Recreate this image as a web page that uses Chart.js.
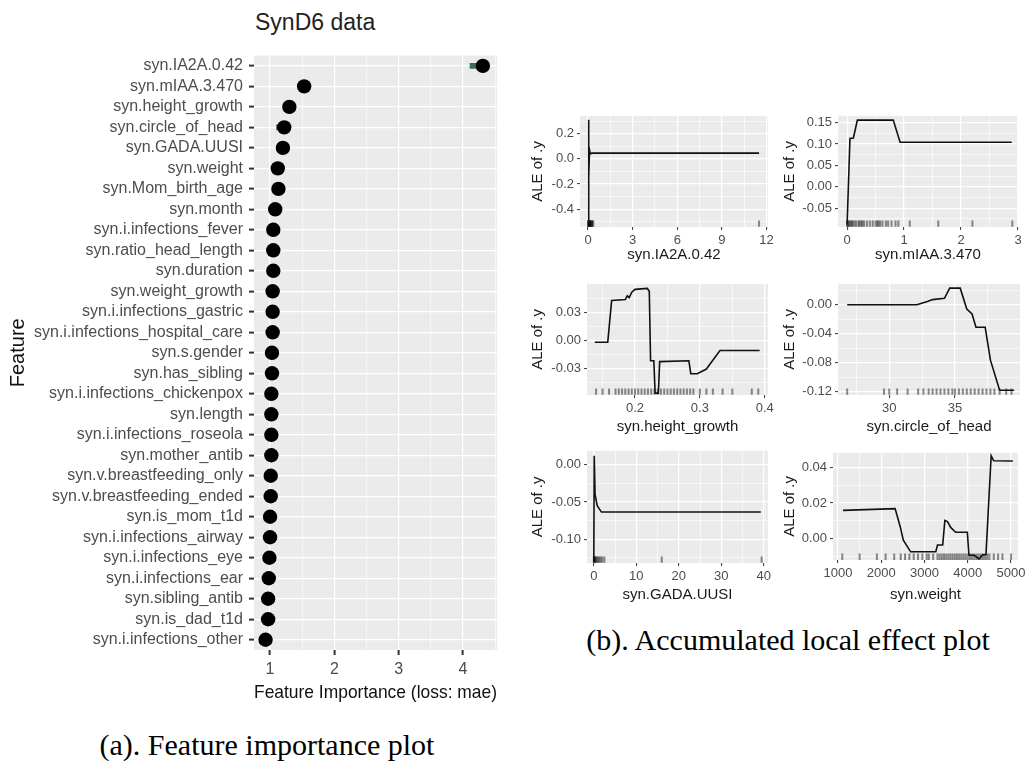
<!DOCTYPE html>
<html><head><meta charset="utf-8">
<script src="https://cdn.jsdelivr.net/npm/chart.js@4.4.1/dist/chart.umd.min.js"></script>
<style>
html,body{margin:0;padding:0;background:#fff;}
body{width:1029px;height:764px;position:relative;overflow:hidden;font-family:"Liberation Sans",Arial,sans-serif;}
canvas{position:absolute;}
.txt{position:absolute;white-space:nowrap;}
</style></head><body>
<div class="txt" style="left:255px;top:22px;transform:translate(0,-50%);font-size:23px;color:#222;">SynD6 data</div>
<div class="txt" style="left:267px;top:745px;transform:translate(-50%,-50%);font-family:'Liberation Serif','Times New Roman',serif;font-size:30px;color:#000;">(a). Feature importance plot</div>
<div class="txt" style="left:788px;top:640px;transform:translate(-50%,-50%);font-family:'Liberation Serif','Times New Roman',serif;font-size:30px;color:#000;">(b). Accumulated local effect plot</div>
<script>
// ---------- Feature importance data ----------
const features = ["syn.IA2A.0.42","syn.mIAA.3.470","syn.height_growth","syn.circle_of_head","syn.GADA.UUSI","syn.weight","syn.Mom_birth_age","syn.month","syn.i.infections_fever","syn.ratio_head_length","syn.duration","syn.weight_growth","syn.i.infections_gastric","syn.i.infections_hospital_care","syn.s.gender","syn.has_sibling","syn.i.infections_chickenpox","syn.length","syn.i.infections_roseola","syn.mother_antib","syn.v.breastfeeding_only","syn.v.breastfeeding_ended","syn.is_mom_t1d","syn.i.infections_airway","syn.i.infections_eye","syn.i.infections_ear","syn.sibling_antib","syn.is_dad_t1d","syn.i.infections_other"];
const importance = [4.31,1.53,1.30,1.22,1.20,1.12,1.13,1.08,1.05,1.05,1.05,1.04,1.04,1.04,1.03,1.03,1.02,1.02,1.02,1.02,1.01,1.01,1.00,1.00,0.99,0.98,0.97,0.97,0.93];
const importanceLow = [4.11,1.52,1.29,1.10,1.19,1.11,1.12,1.07,1.04,1.04,1.04,1.03,1.03,1.03,1.02,1.02,1.01,1.01,1.01,1.01,1.00,1.00,0.99,0.99,0.98,0.97,0.96,0.96,0.92];
const importanceHigh = [4.32,1.54,1.31,1.23,1.21,1.13,1.14,1.09,1.06,1.06,1.06,1.05,1.05,1.05,1.04,1.04,1.03,1.03,1.03,1.03,1.02,1.02,1.01,1.01,1.00,0.99,0.98,0.98,0.94];
const impXTicks = [1,2,3,4];
const impXTickLabels = ["1","2","3","4"];
const impXMinor = [1.5,2.5,3.5,4.5];

// ---------- ALE panel 1: syn.IA2A.0.42 ----------
const ale1X = [0,0.03,0.06,0.1,0.15,0.25,11.5];
const ale1Y = [-0.51,0.31,-0.14,0.07,0.04,0.045,0.045];
const ale1Rug = [0,0.02,0.04,0.06,0.08,0.1,0.12,0.15,0.18,0.22,0.26,0.3,0.35,11.5];
const ale1XTicks = [0,3,6,9,12], ale1XTickLabels = ["0","3","6","9","12"], ale1XMinor = [1.5,4.5,7.5,10.5];
const ale1YTicks = [0.2,0,-0.2,-0.4], ale1YTickLabels = ["0.2","0.0","-0.2","-0.4"], ale1YMinor = [0.3,0.1,-0.1,-0.3,-0.5];

// ---------- ALE panel 2: syn.mIAA.3.470 ----------
const ale2X = [0,0.05,0.11,0.18,0.81,0.93,2.89];
const ale2Y = [-0.088,0.113,0.114,0.156,0.156,0.104,0.104];
const ale2Rug = [0,0.01,0.02,0.04,0.06,0.08,0.1,0.13,0.16,0.2,0.22,0.25,0.27,0.3,0.35,0.4,0.45,0.5,0.53,0.55,0.58,0.62,0.68,0.72,0.78,0.85,0.9,1.1,1.6,2.2,2.9];
const ale2XTicks = [0,1,2,3], ale2XTickLabels = ["0","1","2","3"], ale2XMinor = [0.5,1.5,2.5];
const ale2YTicks = [0.15,0.10,0.05,0,-0.05], ale2YTickLabels = ["0.15","0.10","0.05","0.00","-0.05"], ale2YMinor = [0.125,0.075,0.025,-0.025,-0.075];

// ---------- ALE panel 3: syn.height_growth ----------
const ale3X = [0.138,0.158,0.164,0.185,0.188,0.191,0.195,0.2,0.219,0.222,0.224,0.229,0.231,0.236,0.238,0.283,0.286,0.296,0.31,0.331,0.392];
const ale3Y = [-0.002,-0.002,0.043,0.044,0.048,0.046,0.052,0.055,0.056,0.053,-0.022,-0.022,-0.057,-0.057,-0.023,-0.022,-0.036,-0.036,-0.031,-0.011,-0.011];
const ale3Rug = [0.14,0.15,0.16,0.17,0.175,0.18,0.185,0.19,0.195,0.2,0.205,0.21,0.215,0.22,0.225,0.23,0.235,0.24,0.245,0.25,0.255,0.26,0.265,0.27,0.275,0.28,0.285,0.29,0.3,0.31,0.32,0.335,0.35,0.38,0.39];
const ale3XTicks = [0.2,0.3,0.4], ale3XTickLabels = ["0.2","0.3","0.4"], ale3XMinor = [0.15,0.25,0.35];
const ale3YTicks = [0.03,0,-0.03], ale3YTickLabels = ["0.03","0.00","-0.03"], ale3YMinor = [0.045,0.015,-0.015,-0.045];

// ---------- ALE panel 4: syn.circle_of_head ----------
const ale4X = [26.8,32.1,32.9,33.3,34.2,34.6,35.4,35.9,36.3,36.6,37.3,37.7,38.4,39.5];
const ale4Y = [0,0,0.0045,0.007,0.0088,0.0228,0.0228,-0.006,-0.0128,-0.031,-0.031,-0.0765,-0.118,-0.118];
const ale4Rug = [26.8,29.6,30.0,30.6,31.4,32.2,32.6,33.0,33.3,33.6,33.9,34.2,34.5,34.8,35.0,35.3,35.6,35.9,36.2,36.5,36.8,37.1,37.4,37.7,38.0,38.4,38.9,39.3];
const ale4XTicks = [30,35], ale4XTickLabels = ["30","35"], ale4XMinor = [27.5,32.5,37.5];
const ale4YTicks = [0,-0.04,-0.08,-0.12], ale4YTickLabels = ["0.00","-0.04","-0.08","-0.12"], ale4YMinor = [0.02,-0.02,-0.06,-0.10];

// ---------- ALE panel 5: syn.GADA.UUSI ----------
const ale5X = [0,0.1,0.3,0.8,1.8,39.3];
const ale5Y = [-0.131,0.012,-0.04,-0.055,-0.0636,-0.0636];
const ale5Rug = [0,0.1,0.2,0.3,0.5,0.7,1,1.3,1.6,2,2.5,16,39.5];
const ale5XTicks = [0,10,20,30,40], ale5XTickLabels = ["0","10","20","30","40"], ale5XMinor = [5,15,25,35];
const ale5YTicks = [0,-0.05,-0.10], ale5YTickLabels = ["0.00","-0.05","-0.10"], ale5YMinor = [-0.025,-0.075,-0.125];

// ---------- ALE panel 6: syn.weight ----------
const ale6X = [1116,2320,2440,2510,2680,3260,3300,3420,3470,3530,3610,3720,3990,4025,4150,4260,4340,4420,4540,4600,5040];
const ale6Y = [0.0158,0.0168,0.0065,-0.001,-0.0075,-0.0075,-0.0037,-0.0037,0.0102,0.0095,0.0061,0.0035,0.0035,-0.0093,-0.0095,-0.0115,-0.0093,-0.009,0.0465,0.0437,0.0436];
const ale6Rug = [1100,1500,1900,2100,2300,2450,2550,2650,2750,2850,2950,3050,3100,3200,3300,3350,3400,3450,3500,3550,3600,3650,3700,3750,3800,3850,3900,3950,4000,4050,4100,4150,4200,4250,4300,4350,4400,4450,4500,4600,4700,4800,5000];
const ale6XTicks = [1000,2000,3000,4000,5000], ale6XTickLabels = ["1000","2000","3000","4000","5000"], ale6XMinor = [1500,2500,3500,4500];
const ale6YTicks = [0.04,0.02,0], ale6YTickLabels = ["0.04","0.02","0.00"], ale6YMinor = [0.03,0.01,-0.01];

// ---------- helpers ----------
const FONT = "'Liberation Sans', Arial, sans-serif";
Chart.defaults.font.family = FONT;
Chart.register({id:'panelBg', beforeDraw(ch){const a=ch.chartArea,c=ch.ctx;c.save();c.fillStyle='#EBEBEB';c.fillRect(a.left,a.top,a.right-a.left,a.bottom-a.top);c.restore();}});

function tickScale(min,max,majors,labels,minors,o){
  return {
    type:'linear', min:min, max:max,
    afterBuildTicks(s){
      const t = majors.map((v,i)=>({value:v,mj:true,lab:labels[i]})).concat(minors.filter(v=>v>=min&&v<=max).map(v=>({value:v,mj:false,lab:''})));
      t.sort((a,b)=>a.value-b.value);
      s.ticks = t;
    },
    ticks:{autoSkip:false,maxRotation:0,minRotation:0,color:'#4D4D4D',font:{size:o.fs},padding:o.pad,
      callback(v,i,ticks){return ticks[i].lab;}},
    grid:{color:'#FFFFFF',lineWidth:c=>(c.tick&&c.tick.mj)?1.2:0.6,
      tickColor:c=>(c.tick&&c.tick.mj)?'#333333':'rgba(0,0,0,0)',tickLength:o.tl,tickWidth:o.tw},
    border:{display:false},
    title:o.title
  };
}

function place(box,plot,config){
  const c=document.createElement('canvas');
  c.width=box.w;c.height=box.h;
  c.style.left=box.x+'px';c.style.top=box.y+'px';
  document.body.appendChild(c);
  config.options.layout={padding:{top:plot.t-box.y,right:box.x+box.w-plot.r,left:0,bottom:0}};
  config.options.scales.x.afterFit=s=>{s.height=box.y+box.h-plot.b;};
  config.options.scales.y.afterFit=s=>{s.width=plot.l-box.x;};
  return new Chart(c,config);
}
const baseOpts = ()=>({responsive:false,animation:false,events:[],plugins:{legend:{display:false},tooltip:{enabled:false},title:{display:false}}});

// ---------- Feature importance chart ----------
{
  const opts = baseOpts();
  opts.indexAxis='y';
  opts.scales={
    x: tickScale(0.75,4.53,impXTicks,impXTickLabels,impXMinor,{fs:16,pad:5,tl:5,tw:2,
      title:{display:true,text:'Feature Importance (loss: mae)',color:'#111',font:{size:19},padding:{top:0,bottom:2}}}),
    y:{type:'category',offset:true,
      grid:{offset:false,color:'#FFFFFF',lineWidth:1.2,tickColor:'#333333',tickLength:5,tickWidth:2},
      border:{display:false},
      ticks:{autoSkip:false,color:'#4D4D4D',font:{size:16},padding:6},
      title:{display:true,text:'Feature',color:'#111',font:{size:20},padding:{top:6,bottom:0}}}
  };
  place({x:0,y:40,w:520,h:666},{l:254,t:50,r:497,b:650},{
    type:'line',
    data:{labels:features,datasets:[
      {type:'bar',data:importanceLow.map((l,i)=>[l,importanceHigh[i]]),backgroundColor:'#3B6B5C',barThickness:5,order:2},
      {type:'line',data:importance,showLine:false,pointRadius:7.2,pointBackgroundColor:'#000',pointBorderColor:'#000',pointBorderWidth:0,order:1}
    ]},
    options:opts
  });
}

// ---------- ALE panels ----------
function alePanel(box,plot,xs,ys,rug,xr,yr,xT,xTL,xMi,yT,yTL,yMi,xTitle){
  const opts=baseOpts();
  const rugY = yr[0]+0.03*(yr[1]-yr[0]);
  opts.scales={
    x: tickScale(xr[0],xr[1],xT,xTL,xMi,{fs:13,pad:3,tl:3,tw:1,
      title:{display:true,text:xTitle,color:'#1a1a1a',font:{size:15},padding:{top:0,bottom:0}}}),
    y: tickScale(yr[0],yr[1],yT,yTL,yMi,{fs:13,pad:3,tl:3,tw:1,
      title:{display:true,text:'ALE of .y',color:'#1a1a1a',font:{size:15},padding:{top:1,bottom:0}}})
  };
  place(box,plot,{
    type:'scatter',
    data:{datasets:[
      {data:xs.map((x,i)=>({x:x,y:ys[i]})),showLine:true,borderColor:'#111',borderWidth:1.6,pointRadius:0,tension:0,order:1},
      {data:rug.map(x=>({x:x,y:rugY})),showLine:false,pointStyle:'line',rotation:90,pointRadius:3.2,borderColor:'rgba(0,0,0,0.45)',borderWidth:2,order:2}
    ]},
    options:opts
  });
}

alePanel({x:528,y:105,w:252,h:159},{l:580,t:115,r:768,b:227},ale1X,ale1Y,ale1Rug,[-0.54,12.1],[-0.542,0.342],
  ale1XTicks,ale1XTickLabels,ale1XMinor,ale1YTicks,ale1YTickLabels,ale1YMinor,'syn.IA2A.0.42');
alePanel({x:780,y:105,w:249,h:159},{l:838,t:115,r:1018,b:227},ale2X,ale2Y,ale2Rug,[-0.16,3.0],[-0.094,0.166],
  ale2XTicks,ale2XTickLabels,ale2XMinor,ale2YTicks,ale2YTickLabels,ale2YMinor,'syn.mIAA.3.470');
alePanel({x:528,y:273,w:252,h:163},{l:587,t:283,r:768,b:395},ale3X,ale3Y,ale3Rug,[0.126,0.405],[-0.059,0.061],
  ale3XTicks,ale3XTickLabels,ale3XMinor,ale3YTicks,ale3YTickLabels,ale3YMinor,'syn.height_growth');
alePanel({x:780,y:273,w:249,h:163},{l:838,t:283,r:1020,b:395},ale4X,ale4Y,ale4Rug,[26.1,39.95],[-0.1245,0.0288],
  ale4XTicks,ale4XTickLabels,ale4XMinor,ale4YTicks,ale4YTickLabels,ale4YMinor,'syn.circle_of_head');
alePanel({x:528,y:440,w:252,h:164},{l:587,t:450,r:768,b:563},ale5X,ale5Y,ale5Rug,[-1.6,41],[-0.132,0.0187],
  ale5XTicks,ale5XTickLabels,ale5XMinor,ale5YTicks,ale5YTickLabels,ale5YMinor,'syn.GADA.UUSI');
alePanel({x:780,y:442,w:249,h:162},{l:833,t:452,r:1018,b:560},ale6X,ale6Y,ale6Rug,[885,5160],[-0.0121,0.0482],
  ale6XTicks,ale6XTickLabels,ale6XMinor,ale6YTicks,ale6YTickLabels,ale6YMinor,'syn.weight');
</script>
</body></html>
